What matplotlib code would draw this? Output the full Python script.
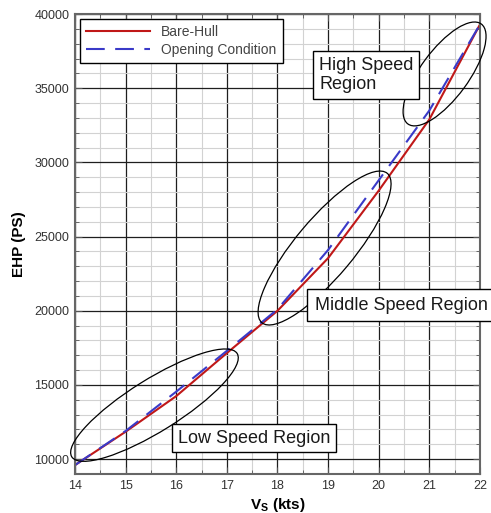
import matplotlib
matplotlib.use("Agg")
import matplotlib.pyplot as plt
import matplotlib.transforms as mtrans
from matplotlib.patches import Ellipse
from matplotlib.ticker import MultipleLocator

plt.rcParams['font.family'] = ['Liberation Sans', 'DejaVu Sans']

# Ship speed (knots) and effective horse power (PS)
speed_kts = [14, 15, 16, 17, 18, 19, 20, 21, 22]
ehp_bare_hull = [9600, 11850, 14250, 17150, 20000, 23550, 28100, 32900, 39300]
ehp_opening = [9600, 11900, 14550, 17300, 20100, 24100, 28800, 33500, 39300]

x_ticks = [14, 15, 16, 17, 18, 19, 20, 21, 22]
y_ticks = [10000, 15000, 20000, 25000, 30000, 35000, 40000]

series_names = ['Bare-Hull', 'Opening Condition']

fig = plt.figure(figsize=(4.91, 5.13), dpi=100)
ax = fig.add_axes([0.1527, 0.076, 0.8249, 0.8967])

ax.set_xlim(14, 22)
ax.set_ylim(9000, 40000)
ax.set_xticks(x_ticks)
ax.set_yticks(y_ticks)
ax.xaxis.set_minor_locator(MultipleLocator(0.5))
ax.yaxis.set_minor_locator(MultipleLocator(1000))

ax.set_axisbelow(True)
ax.grid(which='minor', color='#d2d2d2', lw=0.8)
ax.grid(which='major', color='#1e1e1e', lw=0.9)

for s in ax.spines.values():
    s.set_color('#666666')
    s.set_linewidth(1.5)

ax.tick_params(which='both', direction='in', top=True, right=True,
               colors='#555555', labelcolor='#333333', labelsize=9)
ax.tick_params(which='major', length=5, pad=4)
ax.tick_params(which='minor', length=3)

ax.plot(speed_kts, ehp_bare_hull, color='#c01818', lw=1.5, label=series_names[0])
ax.plot(speed_kts, ehp_opening, color='#3a3ac8', lw=1.5, dashes=(9, 5),
        label=series_names[1])

leg = ax.legend(loc='upper left', bbox_to_anchor=(0.012, 0.989), borderaxespad=0,
                fontsize=10, handlelength=4.6, fancybox=False, framealpha=1,
                edgecolor='black', borderpad=0.45, labelspacing=0.25,
                handletextpad=0.8)
leg.get_frame().set_linewidth(1.0)
for t in leg.get_texts():
    t.set_color('#444444')

ax.set_xlabel(r'V$_\mathregular{S}$ (kts)', fontsize=11, fontweight='bold', labelpad=3)
ax.set_ylabel('EHP (PS)', fontsize=11, fontweight='bold', labelpad=6)


def region_ellipse(xc, yc, w_in, h_in, ang):
    tr = fig.dpi_scale_trans + mtrans.ScaledTranslation(xc, yc, ax.transData)
    e = Ellipse((0, 0), w_in, h_in, angle=ang, transform=tr, fill=False,
                ec='black', lw=0.9, clip_on=False, zorder=4)
    ax.add_patch(e)


region_ellipse(15.57, 13640, 1.95, 0.52, 32)
region_ellipse(18.93, 24230, 1.95, 0.58, 50)
region_ellipse(21.30, 35960, 1.24, 0.48, 53.7)


def region_label(x, y, text, pad, spacing=1.0):
    box = dict(boxstyle=f'square,pad={pad}', fc='white', ec='black', lw=1.0)
    ax.text(x, y, text, fontsize=13, ha='left', va='center', linespacing=spacing,
            bbox=box, zorder=6, clip_on=False, color='#1a1a1a')


region_label(18.82, 35890, 'High Speed\nRegion', 0.32, 1.2)
region_label(18.74, 20380, 'Middle Speed Region', 0.42)
region_label(16.04, 11420, 'Low Speed Region', 0.32)

fig.savefig('out.png', dpi=100)
